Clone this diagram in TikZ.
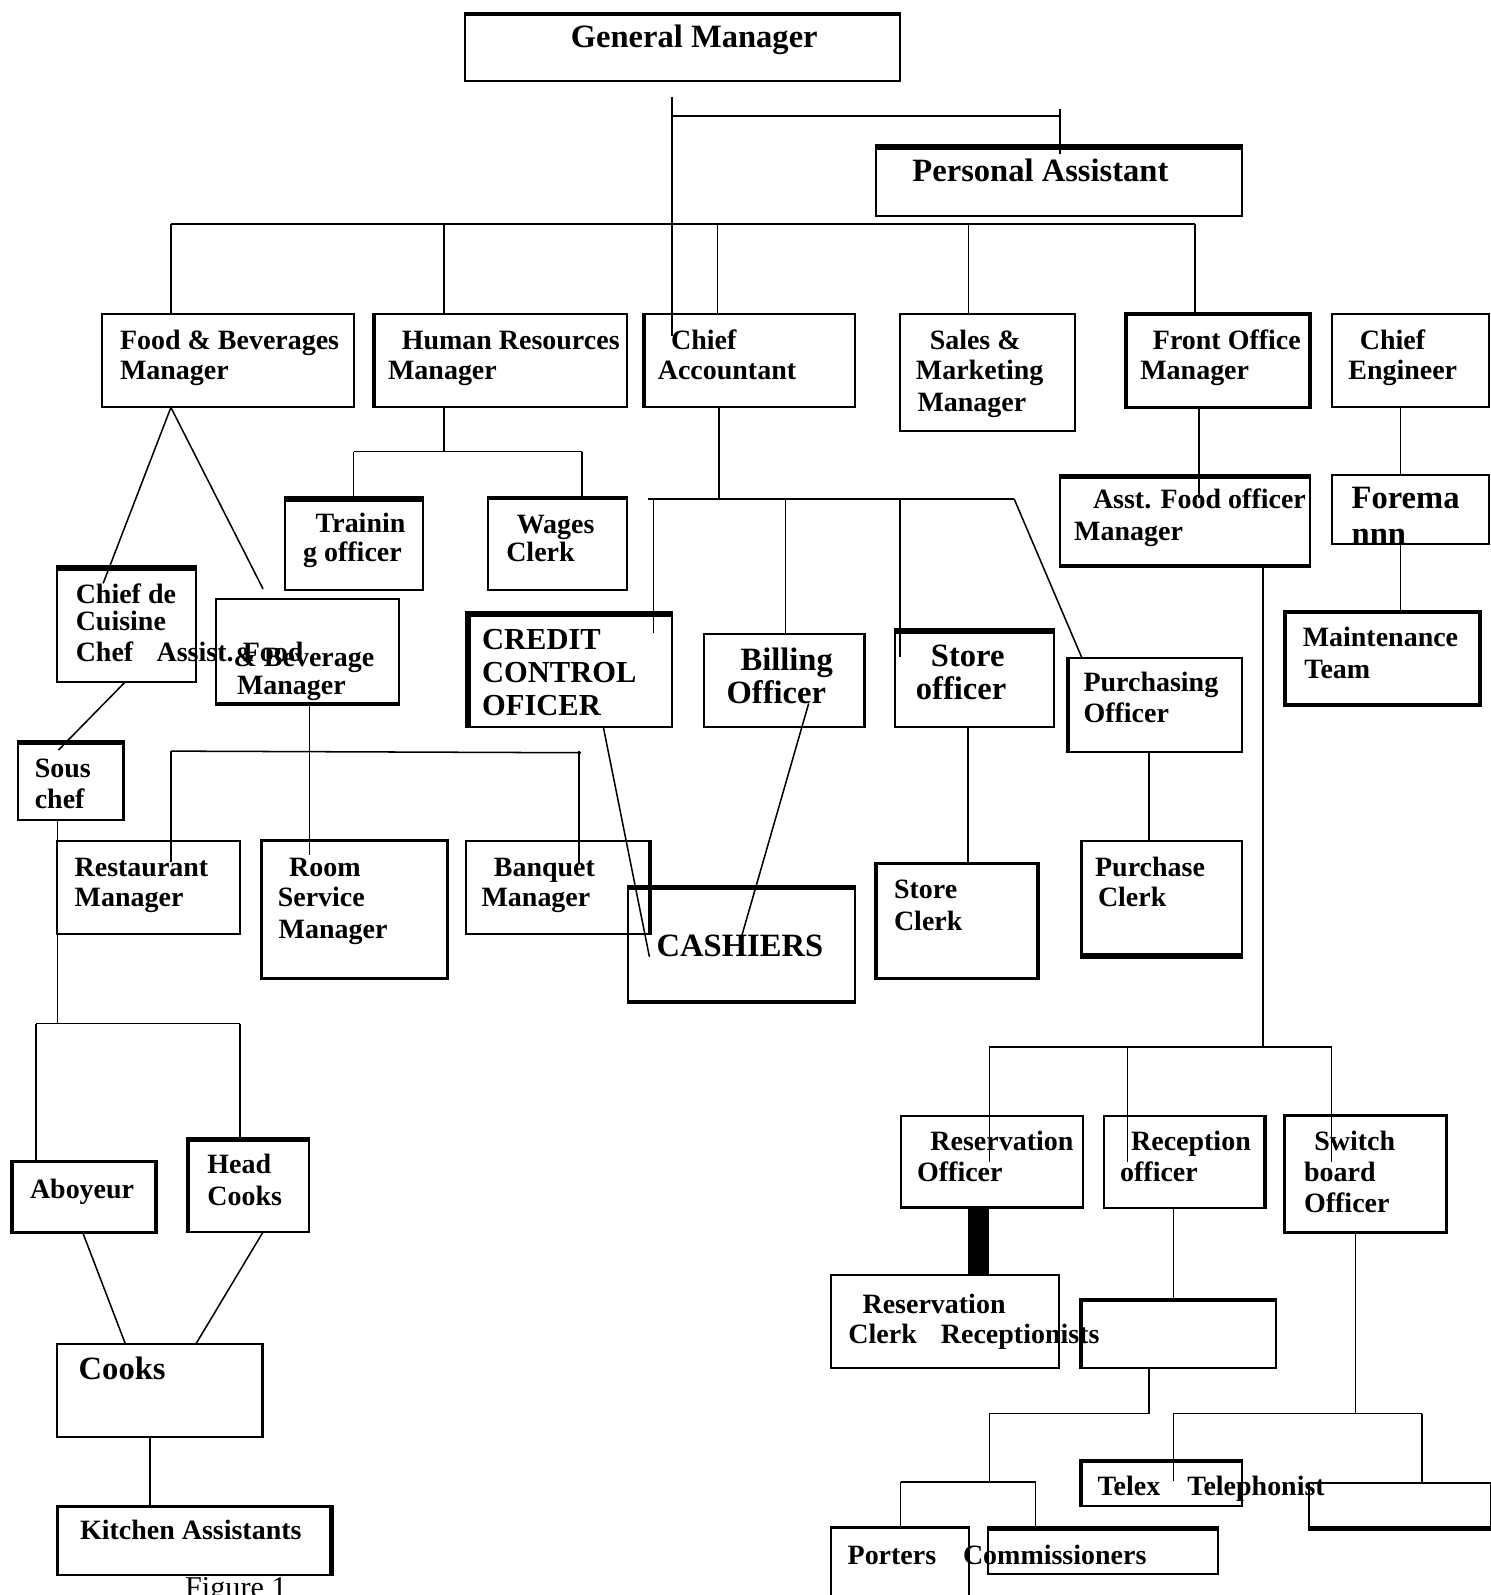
\documentclass[tikz,border=0pt]{standalone}
\usepackage{fontspec}
\setmainfont{Liberation Serif}
\newcommand\mainf{\bfseries\fontsize{27.5}{30}\selectfont}
\newcommand\bigf{\bfseries\fontsize{32}{34}\selectfont}
\newcommand\crf{\bfseries\fontsize{30}{32}\selectfont}
\newcommand\figf{\fontsize{29.7}{32}\selectfont}
\newcommand\boxat[6][]{\node[orgbox, minimum width={#5-#3}, minimum height={#6-#4}, #1] (#2) at (#3,#4) {};}
\newcommand\lineat[5][\mainf]{\node[lbl, font=#1] (#2) at (#3,#4) {#5};}
\tikzset{
  orgbox/.style={draw, line width=2pt, anchor=north west, inner sep=0pt, outer sep=0pt},
  lbl/.style={anchor=base west, inner sep=0pt, outer sep=0pt},
  conn/.style={line width=1.5pt},
  edge/.style={line width=#1pt, line cap=butt},
}
\begin{document}
\begin{tikzpicture}[x=1pt, y=-1pt]
\fill[white] (0,0) rectangle (1465,1568);
\useasboundingbox (0,0) rectangle (1465,1568);

% ---------- boxes ----------
\boxat{gm}{457}{12.5}{885}{79.3}
\boxat{pa}{861}{143}{1221}{212}
\boxat{fb}{100.6}{308.7}{347.6}{400.5}
\boxat{hr}{367}{308.7}{616.6}{400.5}
\boxat{ca}{632.5}{308.7}{840.4}{400.5}
\boxat{sm}{885}{308.7}{1057}{423.8}
\boxat[line width=3.5pt]{fo}{1107}{308.7}{1287.8}{400.5}
\boxat{ce}{1309.6}{308.7}{1464}{400.5}
\boxat{tr}{280.6}{489}{415.9}{580}
\boxat{wc}{480}{489}{616.6}{580}
\boxat{cc}{56.3}{556.5}{192.4}{670.2}
\boxat{af}{212.3}{589.2}{392.3}{693.2}
\boxat{cr}{458.5}{601.4}{660.3}{715}
\boxat{bo}{692.5}{623.4}{850.7}{715}
\boxat{so}{879.7}{618.7}{1036.3}{715}
\boxat{po}{1049.4}{646.6}{1221}{739}
\boxat{as}{1041.7}{467}{1287.8}{557.8}
\boxat{fm}{1309.6}{467}{1464}{534.8}
\boxat[line width=3.5pt]{mt}{1263.2}{601.4}{1455}{693.2}
\boxat{sc}{17.7}{728.3}{121.4}{806.2}
\boxat{rm}{56.3}{826.6}{236.2}{918.3}
\boxat[line width=3pt]{rs}{257.1}{826.6}{439.8}{961.9}
\boxat{bm}{458}{826.6}{640}{918.3}
\boxat{cs}{616.9}{871.1}{840.3}{985.8}
\boxat[line width=3.5pt]{stc}{861.3}{848.8}{1020.4}{961.9}
\boxat{pc}{1062.3}{826.9}{1221.3}{941.6}
\boxat{ro}{885.3}{1097}{1064.8}{1188}
\boxat{rc}{1085.2}{1097}{1244.5}{1188}
\boxat[line width=3pt]{sw}{1262.5}{1097}{1421.7}{1212}
\boxat{rcl}{816.8}{1253.6}{1041}{1344.7}
\boxat{bl}{1061.8}{1277.5}{1254.3}{1344.7}
\boxat{tx}{1061.8}{1434.8}{1221.4}{1480.7}
\boxat{rb}{1286.4}{1457.8}{1466}{1504.3}
\boxat{pt}{816.8}{1501}{952.3}{1580}
\boxat{cm}{970.9}{1501}{1197.5}{1547.6}
\boxat[line width=3.5pt]{ab}{11.8}{1141.8}{153.4}{1211.6}
\boxat{hc}{184.2}{1118.3}{304.1}{1211.6}
\boxat{ck}{56.4}{1321}{258.9}{1412.3}
\boxat[line width=2.5pt]{ka}{56.4}{1481}{327.1}{1548.5}

% ---------- heavier edges ----------
\draw[edge=4] ([yshift=-1.5pt]gm.north west) -- ([yshift=-1.5pt]gm.north east);
\draw[edge=5] ([yshift=-2pt]pa.north west) -- ([yshift=-2pt]pa.north east);
\draw[edge=3.5] ([xshift=1pt]hr.north west) -- ([xshift=1pt]hr.south west);
\draw[edge=3.5] ([xshift=1pt]ca.north west) -- ([xshift=1pt]ca.south west);
\draw[edge=5] ([yshift=-2pt]cc.north west) -- ([yshift=-2pt]cc.north east);
\draw[edge=4] ([yshift=1.5pt]af.south west) -- ([yshift=1.5pt]af.south east);
\draw[edge=5] ([yshift=-2pt]tr.north west) -- ([yshift=-2pt]tr.north east);
\draw[edge=3] ([yshift=-1pt]wc.north west) -- ([yshift=-1pt]wc.north east);
\draw[edge=6] ([yshift=-2.5pt]cr.north west) -- ([yshift=-2.5pt]cr.north east);
\draw[edge=5] ([xshift=2pt]cr.north west) -- ([xshift=2pt]cr.south west);
\draw[edge=3.5] ([xshift=-1pt]bo.north east) -- ([xshift=-1pt]bo.south east);
\draw[edge=5] ([yshift=-2pt]so.north west) -- ([yshift=-2pt]so.north east);
\draw[edge=3.5] ([xshift=1pt]po.north west) -- ([xshift=1pt]po.south west);
\draw[edge=4] ([yshift=-1.5pt]as.north west) -- ([yshift=-1.5pt]as.north east);
\draw[edge=4.5] ([yshift=1.5pt]as.south west) -- ([yshift=1.5pt]as.south east);
\draw[edge=5] ([yshift=-2pt]sc.north west) -- ([yshift=-2pt]sc.north east);
\draw[edge=3.5] ([xshift=-1pt]bm.north east) -- ([xshift=-1pt]bm.south east);
\draw[edge=4] ([yshift=-1.5pt]cs.north west) -- ([yshift=-1.5pt]cs.north east);
\draw[edge=3] ([yshift=1pt]cs.south west) -- ([yshift=1pt]cs.south east);
\draw[edge=5] ([yshift=2pt]pc.south west) -- ([yshift=2pt]pc.south east);
\draw[edge=3.5] ([xshift=1pt]pc.north west) -- ([xshift=1pt]pc.south west);
\draw[edge=3.5] ([yshift=1pt]ro.south west) -- ([yshift=1pt]ro.south east);
\draw[edge=3.5] ([xshift=-1pt]rc.north east) -- ([xshift=-1pt]rc.south east);
\draw[edge=3.5] ([yshift=-1pt]bl.north west) -- ([yshift=-1pt]bl.north east);
\draw[edge=3.5] ([xshift=1pt]bl.north west) -- ([xshift=1pt]bl.south west);
\draw[edge=4] ([yshift=-1.5pt]tx.north west) -- ([yshift=-1.5pt]tx.north east);
\draw[edge=3.5] ([xshift=1pt]tx.north west) -- ([xshift=1pt]tx.south west);
\draw[edge=5] ([yshift=2pt]rb.south west) -- ([yshift=2pt]rb.south east);
\draw[edge=3] ([yshift=-1pt]pt.north west) -- ([yshift=-1pt]pt.north east);
\draw[edge=5] ([yshift=-2pt]cm.north west) -- ([yshift=-2pt]cm.north east);
\draw[edge=5] ([yshift=-2pt]hc.north west) -- ([yshift=-2pt]hc.north east);
\draw[edge=3.5] ([xshift=1pt]hc.north west) -- ([xshift=1pt]hc.south west);
\draw[edge=3.5] ([xshift=-1pt]ck.north east) -- ([xshift=-1pt]ck.south east);
\draw[edge=4] ([xshift=-1.5pt]ka.north east) -- ([xshift=-1.5pt]ka.south east);

% ---------- connectors ----------
\coordinate (gmv) at (660.4,95);   \coordinate (gmd) at (660.4,330);
\draw[conn] (gmv) -- (gmd);
\coordinate (pah) at (660.4,113.8); \coordinate (pahr) at (1042,113.8);
\draw[conn] (pah) -- (pahr);
\coordinate (pat) at (1042,107.5); \coordinate (pab) at (1042,151.4);
\draw[conn] (pat) -- (pab);

\coordinate (b1) at (168,220.2);   \coordinate (b2) at (436.7,220.2);
\coordinate (b3) at (705.2,220.2); \coordinate (b4) at (952,220.2);
\coordinate (b5) at (1174.6,220.2);
\draw[conn] (b1) -- (b5);
\draw[conn] (b1) -- (b1 |- fb.north);
\draw[conn] (b2) -- (b2 |- hr.north);
\draw[conn] (b3) -- (b3 |- ca.north);
\draw[conn] (b4) -- (b4 |- sm.north);
\draw[conn] (b5) -- (b5 |- fo.north);

% F&B
\coordinate (fbv) at (168,400.5);
\coordinate (ccin) at (101.4,573.5); \coordinate (afin) at (258.6,579);
\draw[conn] (fbv) -- (ccin);
\draw[conn] (fbv) -- (afin);
% HR
\coordinate (hrv) at (436.5,400.5); \coordinate (hrj) at (436.5,444);
\coordinate (h1) at (347.6,444); \coordinate (h2) at (572.3,444);
\draw[conn] (hrv) -- (hrj);
\draw[conn] (h1) -- (h2);
\draw[conn] (h1) -- (h1 |- tr.north);
\draw[conn] (h2) -- (h2 |- wc.north);
% Chief Accountant
\coordinate (cav) at (706.7,400.5); \coordinate (caj) at (706.7,490.5);
\coordinate (k0) at (637,490.5); \coordinate (k1) at (642.3,490.5);
\coordinate (k2) at (772.2,490.5); \coordinate (k3) at (885,490.5);
\coordinate (k4) at (997,490.5);
\coordinate (k1e) at (642.3,622.7); \coordinate (k3e) at (885,645.7);
\coordinate (k4e) at (1063.5,646.6);
\draw[conn] (cav) -- (caj);
\draw[conn] (k0) -- (k4);
\draw[conn] (k1) -- (k1e);
\draw[conn] (k2) -- (k2 |- bo.north);
\draw[conn] (k3) -- (k3e);
\draw[conn] (k4) -- (k4e);
% Front office
\coordinate (fov) at (1178.6,400.5); \coordinate (foe) at (1178.6,490);
\draw[conn] (fov) -- (foe);
\coordinate (asv) at (1241.7,557.8); \coordinate (asj) at (1241.7,1029.1);
\coordinate (f1) at (972.6,1029.1); \coordinate (f2) at (1108.4,1029.1);
\coordinate (f3) at (1309,1029.1);
\coordinate (f1e) at (972.6,1142); \coordinate (f2e) at (1108.4,1142);
\coordinate (f3e) at (1309,1142);
\draw[conn] (asv) -- (asj);
\draw[conn] (f1) -- (f3);
\draw[conn] (f1) -- (f1e);
\draw[conn] (f2) -- (f2e);
\draw[conn] (f3) -- (f3e);
% Chief engineer
\coordinate (cev) at (1376.7,400.5); \coordinate (fmv) at (1376.7,527.7);
\draw[conn] (cev) -- (cev |- fm.north);
\draw[conn] (fmv) -- (fmv |- mt.north);
% Chief de cuisine -> sous chef -> kitchen
\coordinate (ccv) at (123.3,670.2); \coordinate (scin) at (57.4,737.4);
\draw[conn] (ccv) -- (scin);
\coordinate (scv) at (56.3,806.2); \coordinate (scj) at (56.3,1006.3);
\coordinate (s1) at (35.4,1006.3); \coordinate (s2) at (236,1006.3);
\draw[conn] (scv) -- (scj);
\draw[conn] (s1) -- (s2);
\draw[conn] (s1) -- (s1 |- ab.north);
\draw[conn] (s2) -- (s2 |- hc.north);
% Assist F&B
\coordinate (afv) at (304.1,693.2); \coordinate (afe) at (304.1,840.6);
\coordinate (a1) at (168.3,738.4); \coordinate (a2) at (571,740);
\coordinate (a1e) at (168.3,847.2);
\coordinate (a3) at (569.4,738.2); \coordinate (a3e) at (569.4,848.2);
\draw[conn] (afv) -- (afe);
\draw[conn] (a1) -- (a2);
\draw[conn] (a1) -- (a1e);
\draw[conn] (a3) -- (a3e);
% to cashiers
\coordinate (crv) at (593.1,714.5); \coordinate (csa) at (638.4,940.6);
\coordinate (bov) at (795,691.5);  \coordinate (csb) at (729.4,919.3);
\draw[conn] (crv) -- (csa);
\draw[conn] (bov) -- (csb);
% store / purchase
\coordinate (sov) at (951.4,715);
\draw[conn] (sov) -- (sov |- stc.north);
\coordinate (pov) at (1129.6,739);
\draw[conn] (pov) -- (pov |- pc.north);
% reservation
\coordinate (rov) at (962,1188); \coordinate (rce) at (962,1253.6);
\draw[line width=20pt] (rov) -- (rce);
\coordinate (rcv) at (1153.5,1188); \coordinate (rcb) at (1153.5,1277.5);
\draw[conn] (rcv) -- (rcb);
\coordinate (blv) at (1129.7,1344.7); \coordinate (blj) at (1129.7,1389.6);
\coordinate (blk) at (972.6,1389.6); \coordinate (bll) at (972.6,1456.8);
\coordinate (p1) at (885.3,1456.8); \coordinate (p2) at (1018,1456.8);
\draw[conn] (blv) -- (blj) -- (blk) -- (bll);
\draw[conn] (p1) -- (p2);
\draw[conn] (p1) -- (p1 |- pt.north);
\draw[conn] (p2) -- (p2 |- cm.north);
% switchboard
\coordinate (swv) at (1332.7,1212); \coordinate (swj) at (1332.7,1389.6);
\coordinate (w1) at (1153.5,1389.6); \coordinate (w2) at (1398,1389.6);
\coordinate (w1e) at (1153.5,1456);
\draw[conn] (swv) -- (swj);
\draw[conn] (w1) -- (w2);
\draw[conn] (w1) -- (w1e);
\draw[conn] (w2) -- (w2 |- rb.north);
% cooks
\coordinate (abv) at (81.3,1211.6); \coordinate (cka) at (123.2,1321);
\coordinate (hcv) at (258.3,1211.6); \coordinate (ckb) at (192.7,1321);
\draw[conn] (abv) -- (cka);
\draw[conn] (hcv) -- (ckb);
\coordinate (ckv) at (147.5,1412.3);
\draw[conn] (ckv) -- (ckv |- ka.north);

% ---------- texts ----------
\lineat[\bigf]{gmt}{561.2}{47}{General Manager}
\lineat[\bigf]{pat1}{897}{178}{Personal Assistant}
\lineat{fbt1}{118}{343.5}{Food \& Beverages}
\lineat{fbt2}{118}{373}{Manager}
\lineat{hrt1}{395}{343.5}{Human Resources}
\lineat{hrt2}{381.5}{373}{Manager}
\lineat{cat1}{659.8}{343.5}{Chief}
\lineat{cat2}{646.7}{373}{Accountant}
\lineat{smt1}{914}{343.5}{Sales \&}
\lineat{smt2}{900.4}{373}{Marketing}
\lineat{smt3}{902}{405}{Manager}
\lineat{fot1}{1133.4}{343.5}{Front Office}
\lineat{fot2}{1121}{373}{Manager}
\lineat{cet1}{1336.9}{343.5}{Chief}
\lineat{cet2}{1325.5}{373}{Engineer}
\lineat{trt1}{310.4}{523.7}{Trainin}
\lineat{trt2}{298}{552}{g officer}
\lineat{wct1}{508}{524}{Wages}
\lineat{wct2}{497.7}{552}{Clerk}
\lineat{cct1}{74.5}{593}{Chief de}
\lineat{cct2}{74.5}{620}{Cuisine}
\lineat{cct3}{74.5}{650.6}{Chef}
\lineat{cct4}{154}{650.6}{Assist. Food}
\lineat{aft1}{229.7}{655.5}{\& Beverage}
\lineat{aft2}{233}{682.4}{Manager}
\lineat[\crf]{crt1}{474}{638.4}{CREDIT}
\lineat[\crf]{crt2}{474}{671.2}{CONTROL}
\lineat[\crf]{crt3}{474}{703}{OFICER}
\lineat[\bigf]{bot1}{728}{658.7}{Billing}
\lineat[\bigf]{bot2}{714.3}{691.5}{Officer}
\lineat[\bigf]{sot1}{915.2}{654.8}{Store}
\lineat[\bigf]{sot2}{900.4}{687.6}{officer}
\lineat{pot1}{1065.2}{679.4}{Purchasing}
\lineat{pot2}{1065.2}{710.6}{Officer}
\lineat{ast1}{1074.5}{499.8}{Asst. Food officer}
\lineat{ast2}{1056}{531.6}{Manager}
\lineat[\bigf]{fmt1}{1328.8}{499.8}{Forema}
\lineat[\bigf]{fmt2}{1328.8}{534.8}{nnn}
\lineat{mtt1}{1280.7}{635.8}{Maintenance}
\lineat{mtt2}{1282.3}{666.9}{Team}
\lineat{sct1}{34.2}{764.3}{Sous}
\lineat{sct2}{34.2}{794.7}{chef}
\lineat{rmt1}{73.4}{862}{Restaurant}
\lineat{rmt2}{73.4}{891.4}{Manager}
\lineat{rst1}{284.2}{862}{Room}
\lineat{rst2}{273.1}{891.4}{Service}
\lineat{rst3}{274}{922.6}{Manager}
\lineat{bmt1}{485.5}{862}{Banquet}
\lineat{bmt2}{473.4}{891.4}{Manager}
\lineat[\bigf]{cst}{645.6}{940}{CASHIERS}
\lineat{stct1}{878.9}{883.2}{Store}
\lineat{stct2}{878.9}{914.4}{Clerk}
\lineat{pct1}{1076.6}{862}{Purchase}
\lineat{pct2}{1079.4}{891.4}{Clerk}
\lineat{rot1}{914.7}{1131.3}{Reservation}
\lineat{rot2}{901.6}{1161.9}{Officer}
\lineat{rct1}{1112}{1131.3}{Reception}
\lineat{rct2}{1101.2}{1161.9}{officer}
\lineat{swt1}{1292}{1131.3}{Switch}
\lineat{swt2}{1282}{1161.9}{board}
\lineat{swt3}{1282}{1192.3}{Officer}
\lineat{rclt1}{848}{1291.2}{Reservation}
\lineat{rclt2}{834.1}{1320.7}{Clerk}
\lineat{rclt3}{925}{1320.7}{Receptionists}
\lineat{txt1}{1079}{1469.9}{Telex}
\lineat{txt2}{1167.3}{1469.9}{Telephonist}
\lineat{ptt}{833.3}{1537.7}{Porters}
\lineat{cmt}{946.7}{1537.7}{Commissioners}
\lineat{abt}{29.5}{1178}{Aboyeur}
\lineat{hct1}{203.9}{1154.1}{Head}
\lineat{hct2}{203.9}{1184.7}{Cooks}
\lineat[\bigf]{ckt}{77.4}{1356.3}{Cooks}
\lineat{kat}{78.7}{1513}{Kitchen Assistants}
\lineat[\figf]{figt}{182}{1570}{Figure 1}
\end{tikzpicture}
\end{document}
